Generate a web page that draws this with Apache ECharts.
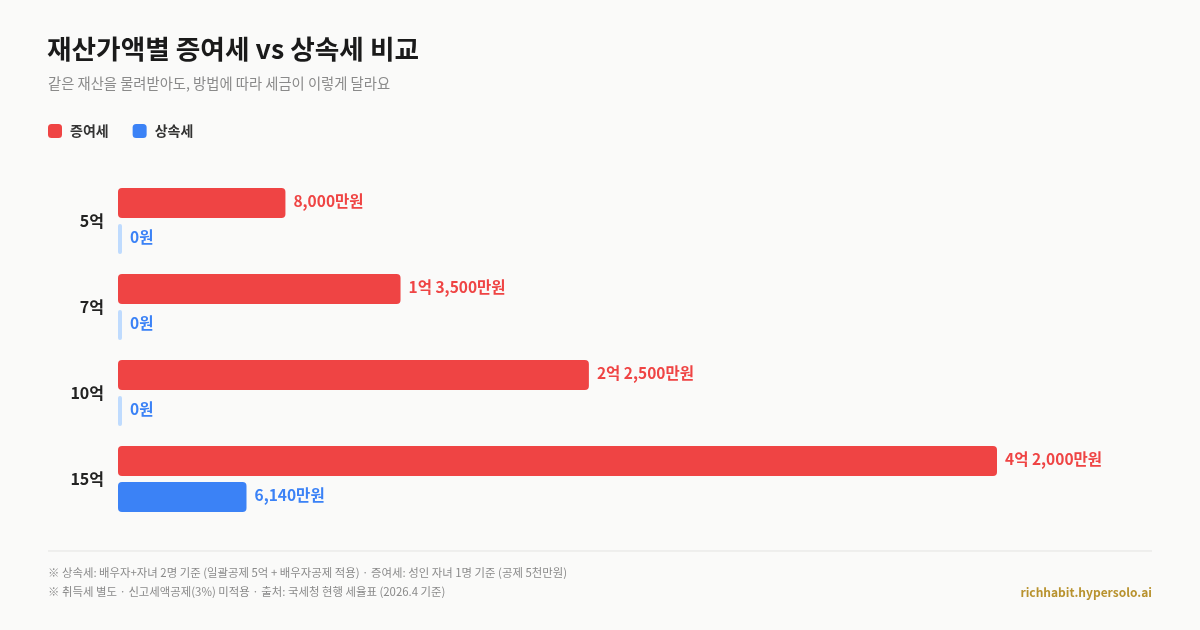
<!DOCTYPE html>
<html><head><meta charset="utf-8">
<script src="https://cdn.jsdelivr.net/npm/echarts@6/dist/echarts.min.js"></script>
<style>html,body{margin:0;padding:0;background:#fafaf9;}#c{width:1200px;height:630px;}</style>
</head><body><div id="c"></div>
<script>
const categories = ['5억', '7억', '10억', '15억'];
const giftTax = [8000, 13500, 22500, 42000];        // 증여세 (만원)
const inheritTax = [0, 0, 0, 6140];                 // 상속세 (만원)
const seriesNames = ['증여세', '상속세'];

const FONT = '"Noto Sans CJK KR", "Noto Sans", sans-serif';
const RED = '#ef4444', BLUE = '#3b82f6', LIGHTBLUE = '#bfdbfe';

function fmt(v) {
  if (v === 0) return '0원';
  const eok = Math.floor(v / 10000);
  const man = v % 10000;
  const manStr = man.toLocaleString('en-US') + '만원';
  if (eok > 0) return man > 0 ? eok + '억 ' + manStr : eok + '억';
  return manStr;
}

const chart = echarts.init(document.getElementById('c'), null, {renderer: 'canvas'});
chart.setOption({
  backgroundColor: '#fafaf9',
  textStyle: {fontFamily: FONT},
  title: [
    {text: '재산가액별 증여세 vs 상속세 비교', left: 47, top: 36, padding: 0,
     textStyle: {fontFamily: FONT, fontSize: 26.7, fontWeight: 'bold', color: '#1a1a1a'}},
    {text: '같은 재산을 물려받아도, 방법에 따라 세금이 이렇게 달라요', left: 48, top: 76, padding: 0,
     textStyle: {fontFamily: FONT, fontSize: 14.3, fontWeight: 'normal', color: '#8a8a8a'}},
    {text: '※ 상속세: 배우자+자녀 2명 기준 (일괄공제 5억 + 배우자공제 적용) · 증여세: 성인 자녀 1명 기준 (공제 5천만원)', left: 48, top: 567, padding: 0,
     textStyle: {fontFamily: FONT, fontSize: 11.4, fontWeight: 'normal', color: '#8a8a8a'}},
    {text: '※ 취득세 별도 · 신고세액공제(3%) 미적용 · 출처: 국세청 현행 세율표 (2026.4 기준)', left: 48, top: 586, padding: 0,
     textStyle: {fontFamily: FONT, fontSize: 11.4, fontWeight: 'normal', color: '#8a8a8a'}},
    {text: 'richhabit.hypersolo.ai', right: 48, top: 586, padding: 0,
     textStyle: {fontFamily: FONT, fontSize: 12, fontWeight: 'bold', color: '#b8922e'}}
  ],
  graphic: [
    {type: 'line', shape: {x1: 48, y1: 551, x2: 1152, y2: 551}, style: {stroke: '#e3e3e1', lineWidth: 1}}
  ],
  legend: {
    left: 48, top: 124, padding: 0, itemWidth: 14, itemHeight: 14, itemGap: 24,
    icon: 'roundRect',
    textStyle: {fontFamily: FONT, fontSize: 14, fontWeight: 'bold', color: '#333', padding: [0, 0, 0, 3]},
    data: seriesNames
  },
  grid: {left: 118, right: 203, top: 178, bottom: 108, containLabel: false},
  xAxis: {type: 'value', min: 0, max: 42000, show: false},
  yAxis: {
    type: 'category', data: categories, inverse: true,
    axisLine: {show: false}, axisTick: {show: false}, splitLine: {show: false},
    axisLabel: {fontFamily: FONT, fontSize: 16, fontWeight: 'bold', color: '#222', margin: 14}
  },
  series: [
    {
      name: seriesNames[0], type: 'bar', barWidth: 30, barGap: '20%',
      itemStyle: {color: RED, borderRadius: 4},
      label: {show: true, position: 'right', distance: 8, offset: [0, -2], fontFamily: FONT, fontSize: 15.5, fontWeight: 'bold', color: RED,
              formatter: p => fmt(p.value)},
      data: giftTax
    },
    {
      name: seriesNames[1], type: 'bar', barWidth: 30, barGap: '20%', barMinHeight: 4,
      itemStyle: {color: BLUE, borderRadius: 4},
      label: {show: true, position: 'right', distance: 8, offset: [0, -2], fontFamily: FONT, fontSize: 15.5, fontWeight: 'bold', color: BLUE,
              formatter: p => fmt(p.value)},
      data: inheritTax.map(v => v === 0 ? {value: v, itemStyle: {color: LIGHTBLUE, borderRadius: 2}} : v)
    }
  ]
});
</script></body></html>
